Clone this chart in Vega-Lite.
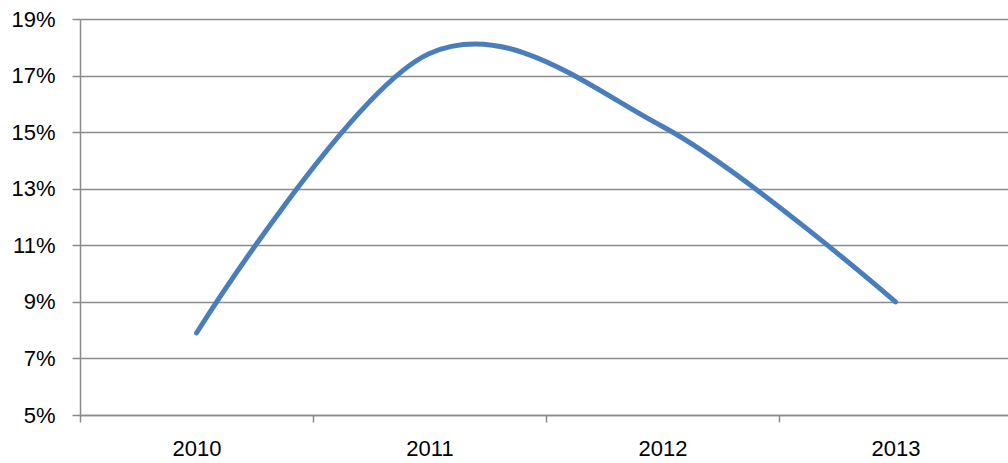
{
  "$schema": "https://vega.github.io/schema/vega-lite/v6.json",
  "width": 932,
  "height": 396,
  "autosize": "none",
  "padding": {"left": 80, "top": 19, "right": 0, "bottom": 48},
  "background": "white",
  "config": {
    "view": {"stroke": null},
    "axis": {
      "labelFont": "Liberation Sans",
      "labelFontSize": 22,
      "labelColor": "#000000",
      "domainColor": "#8a8a8a",
      "domainWidth": 1.5,
      "tickColor": "#8a8a8a",
      "tickWidth": 1.5,
      "gridColor": "#8a8a8a",
      "gridWidth": 1.5,
      "title": null
    }
  },
  "data": {
    "values": [
      {"year": "2010", "value": 0.079},
      {"year": "2011", "value": 0.1778},
      {"year": "2012", "value": 0.152},
      {"year": "2013", "value": 0.09}
    ]
  },
  "mark": {
    "type": "line",
    "interpolate": "cardinal",
    "tension": 0,
    "strokeWidth": 5,
    "color": "#4a7ebb",
    "strokeCap": "round",
    "strokeJoin": "round"
  },
  "encoding": {
    "x": {
      "field": "year",
      "type": "ordinal",
      "scale": {"type": "band", "paddingInner": 0, "paddingOuter": 0},
      "axis": {
        "tickBand": "extent",
        "labelAngle": 0,
        "grid": false,
        "tickSize": 7,
        "labelPadding": 16
      }
    },
    "y": {
      "field": "value",
      "type": "quantitative",
      "scale": {"domain": [0.05, 0.19], "nice": false, "zero": false},
      "axis": {
        "values": [0.05, 0.07, 0.09, 0.11, 0.13, 0.15, 0.17, 0.19],
        "format": ".0%",
        "grid": true,
        "tickSize": 8,
        "labelPadding": 17
      }
    }
  }
}
